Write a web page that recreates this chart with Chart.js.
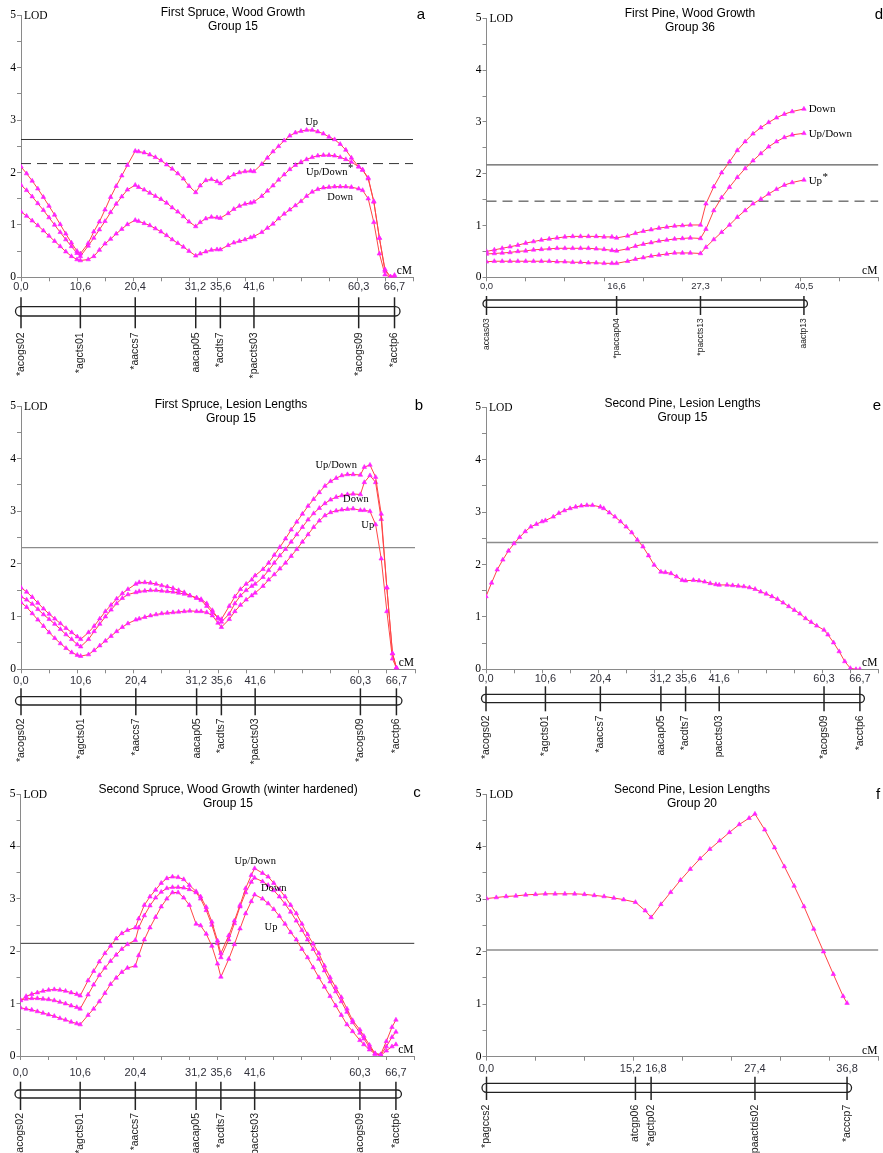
<!DOCTYPE html>
<html>
<head>
<meta charset="utf-8">
<title>LOD profiles</title>
<script src="https://cdn.jsdelivr.net/npm/chart.js"></script>
<style>
  body { margin: 0; background: #fff; width: 883px; height: 1153px; overflow: hidden; position: relative; }
  canvas { position: absolute; }
</style>
</head>
<body>
<canvas id="pa" width="440" height="385" style="left:0;top:0"></canvas>
<canvas id="pb" width="440" height="385" style="left:0;top:390px"></canvas>
<canvas id="pc" width="440" height="373" style="left:0;top:780px"></canvas>
<canvas id="pd" width="443" height="385" style="left:440px;top:0"></canvas>
<canvas id="pe" width="443" height="385" style="left:440px;top:390px"></canvas>
<canvas id="pf" width="443" height="373" style="left:440px;top:780px"></canvas>
<script>
// ---- linkage group 15 (panels a, b, c, e) ----
const g15Pos = [0, 10.6, 20.4, 31.2, 35.6, 41.6, 60.3, 66.7];
const g15Names = ['*acogs02', '*agcts01', '*aaccs7', 'aacap05', '*acdts7', '*paccts03', '*acogs09', '*acctp6'];
const g15NamesE = ['*acogs02', '*agcts01', '*aaccs7', 'aacap05', '*acdts7', 'paccts03', '*acogs09', '*acctp6'];
const g15cM = [0,1,2,3,4,5,6,7,8,9,10,10.6, 12,13,14,15,16,17,18,19, 20.4,21,22,23,24,25,26,27,28,29,30,
  31.2,32,33,34,35, 35.6,37,38,39,40,41, 41.6,43,44,45,46,47,48,49,50,51,52,53,54,55,56,57,58,59,
  60.3,61,62,63,64,65,66,66.7];

// a: First Spruce, Wood Growth
const aUp = [2.11,1.98,1.84,1.69,1.53,1.36,1.19,1.01,0.83,0.66,0.50,0.45,
  0.65,0.87,1.06,1.29,1.53,1.74,1.94,2.14,
  2.41,2.40,2.38,2.34,2.29,2.23,2.15,2.07,1.98,1.88,1.74,
  1.62,1.75,1.85,1.87,1.83,
  1.79,1.90,1.96,2.00,2.02,2.03,
  2.02,2.16,2.28,2.40,2.50,2.61,2.70,2.76,2.79,2.81,2.81,2.78,2.74,2.68,2.63,2.54,2.43,2.28,
  2.11,2.05,1.90,1.45,0.75,0.15,0.01,0.04];
const aUpDown = [1.76,1.66,1.54,1.41,1.28,1.14,1.00,0.86,0.72,0.59,0.46,0.40,
  0.60,0.75,0.91,1.07,1.24,1.40,1.54,1.67,
  1.76,1.72,1.67,1.61,1.55,1.49,1.42,1.33,1.25,1.16,1.06,
  0.97,1.05,1.12,1.15,1.14,
  1.13,1.22,1.30,1.36,1.40,1.42,
  1.44,1.55,1.65,1.75,1.86,1.96,2.06,2.14,2.20,2.25,2.29,2.32,2.33,2.33,2.32,2.29,2.25,2.20,
  2.11,2.05,1.88,1.44,0.75,0.12,0.00,0.02];
const aDown = [1.25,1.17,1.08,0.99,0.89,0.79,0.69,0.59,0.49,0.40,0.34,0.32,
  0.34,0.40,0.52,0.64,0.73,0.83,0.92,1.01,
  1.09,1.07,1.03,0.99,0.93,0.87,0.80,0.72,0.65,0.58,0.50,
  0.41,0.45,0.49,0.52,0.53,
  0.53,0.61,0.66,0.69,0.72,0.76,
  0.78,0.86,0.94,1.02,1.12,1.21,1.29,1.37,1.45,1.55,1.63,1.68,1.71,1.72,1.73,1.73,1.73,1.72,
  1.69,1.66,1.50,1.05,0.45,0.05,0.00,0.00];
const aThr = [2.63, 2.17];

// b: First Spruce, Lesion Lengths
const bUpDown = [1.55,1.47,1.37,1.26,1.15,1.05,0.96,0.87,0.78,0.70,0.62,0.57,
  0.70,0.82,0.96,1.10,1.22,1.34,1.44,1.52,
  1.62,1.65,1.65,1.64,1.62,1.59,1.57,1.54,1.50,1.46,1.40,
  1.35,1.31,1.20,1.08,0.98,
  0.95,1.20,1.38,1.52,1.62,1.70,
  1.78,1.90,2.02,2.17,2.32,2.48,2.65,2.80,2.95,3.10,3.23,3.36,3.48,3.57,3.63,3.68,3.70,3.70,
  3.69,3.84,3.88,3.65,2.95,1.55,0.30,0.03];
const bDown = [1.38,1.32,1.24,1.14,1.04,0.95,0.86,0.76,0.66,0.57,0.47,0.43,
  0.57,0.72,0.86,1.00,1.13,1.25,1.35,1.42,
  1.46,1.48,1.49,1.50,1.50,1.49,1.48,1.47,1.45,1.43,1.40,
  1.36,1.33,1.25,1.12,0.97,
  0.90,1.05,1.25,1.40,1.50,1.58,
  1.62,1.75,1.88,2.02,2.16,2.28,2.42,2.56,2.70,2.84,2.96,3.06,3.15,3.22,3.27,3.30,3.32,3.33,
  3.32,3.55,3.68,3.55,2.85,1.55,0.30,0.03];
const bUp = [1.27,1.18,1.06,0.94,0.82,0.70,0.59,0.49,0.40,0.32,0.27,0.25,
  0.28,0.36,0.45,0.54,0.63,0.72,0.80,0.87,
  0.94,0.96,0.99,1.02,1.04,1.06,1.07,1.08,1.09,1.10,1.11,
  1.10,1.10,1.08,1.02,0.88,
  0.80,0.95,1.10,1.22,1.32,1.40,
  1.45,1.58,1.70,1.80,1.91,2.02,2.15,2.28,2.42,2.56,2.70,2.82,2.92,2.98,3.01,3.03,3.04,3.05,
  3.02,3.02,3.00,2.75,2.10,1.10,0.20,0.02];
const bThr = [2.31];

// c: Second Spruce, Wood Growth (winter hardened)
const cUpDown = [1.06,1.14,1.18,1.21,1.24,1.26,1.27,1.26,1.24,1.21,1.18,1.15,
  1.44,1.62,1.80,1.96,2.10,2.24,2.34,2.40,
  2.45,2.62,2.88,3.04,3.17,3.30,3.39,3.42,3.41,3.37,3.26,
  3.14,3.04,2.84,2.56,2.20,
  1.96,2.30,2.58,2.88,3.20,3.45,
  3.58,3.49,3.42,3.30,3.18,3.04,2.88,2.72,2.52,2.32,2.14,1.96,1.72,1.50,1.31,1.12,0.90,0.68,
  0.50,0.38,0.21,0.05,0.03,0.28,0.55,0.69];
const cDown = [1.07,1.09,1.10,1.10,1.09,1.08,1.06,1.03,1.00,0.96,0.93,0.90,
  1.17,1.36,1.54,1.68,1.81,1.93,2.04,2.13,
  2.21,2.45,2.68,2.87,3.02,3.13,3.20,3.22,3.22,3.21,3.18,
  3.12,3.00,2.78,2.50,2.15,
  1.88,2.22,2.53,2.85,3.12,3.32,
  3.40,3.33,3.26,3.16,3.04,2.90,2.75,2.58,2.40,2.22,2.04,1.85,1.63,1.42,1.23,1.04,0.84,0.64,
  0.44,0.33,0.17,0.04,0.02,0.18,0.36,0.46];
const cUp = [0.92,0.90,0.88,0.85,0.82,0.79,0.76,0.72,0.69,0.65,0.62,0.60,
  0.78,0.90,1.04,1.20,1.37,1.49,1.60,1.68,
  1.72,1.92,2.22,2.45,2.65,2.85,3.00,3.12,3.12,3.02,2.88,
  2.52,2.49,2.33,2.10,1.76,
  1.51,1.85,2.13,2.43,2.72,2.95,
  3.08,3.00,2.91,2.80,2.67,2.52,2.36,2.22,2.04,1.88,1.69,1.50,1.32,1.14,0.96,0.78,0.60,0.47,
  0.30,0.22,0.12,0.04,0.01,0.10,0.18,0.22];
const cThr = [2.15];

// e: Second Pine, Lesion Lengths, group 15
const eLod = [1.39,1.65,1.90,2.09,2.26,2.40,2.52,2.63,2.72,2.77,2.82,2.84,
  2.91,2.98,3.03,3.07,3.10,3.12,3.13,3.13,
  3.10,3.07,2.99,2.91,2.82,2.72,2.61,2.47,2.34,2.17,1.99,
  1.86,1.85,1.83,1.77,1.70,
  1.69,1.70,1.69,1.67,1.64,1.62,
  1.61,1.61,1.60,1.59,1.58,1.56,1.53,1.48,1.44,1.39,1.34,1.27,1.20,1.13,1.06,0.97,0.90,0.83,
  0.75,0.66,0.51,0.34,0.15,0.02,0.00,0.00];
const eThr = [2.42];

// ---- d: First Pine, Wood Growth, group 36 ----
const g36Pos = [0, 16.6, 27.3, 40.5];
const g36Names = ['accas03', '*paccap04', '*paccts13', 'aactp13'];
const g36cM = [0,1,2,3,4,5,6,7,8,9,10,11,12,13,14,15,16,16.6, 18,19,20,21,22,23,24,25,26,27.3,
  28,29,30,31,32,33,34,35,36,37,38,39,40.5];
const dDown = [0.50,0.53,0.56,0.59,0.62,0.66,0.69,0.72,0.74,0.76,0.78,0.79,0.79,0.79,0.79,0.78,0.78,0.76,
  0.80,0.85,0.89,0.92,0.95,0.97,0.99,1.00,1.01,1.01,
  1.42,1.75,2.02,2.23,2.45,2.62,2.77,2.89,2.99,3.08,3.15,3.20,3.25];
const dUpDown = [0.45,0.46,0.47,0.48,0.50,0.51,0.53,0.54,0.55,0.56,0.56,0.56,0.56,0.56,0.55,0.54,0.52,0.51,
  0.55,0.60,0.64,0.67,0.70,0.72,0.74,0.75,0.76,0.75,
  0.93,1.29,1.54,1.74,1.93,2.10,2.25,2.39,2.52,2.62,2.70,2.75,2.78];
const dUp = [0.30,0.31,0.31,0.31,0.31,0.31,0.31,0.31,0.31,0.30,0.30,0.29,0.29,0.28,0.28,0.27,0.27,0.27,
  0.31,0.35,0.38,0.41,0.43,0.45,0.47,0.47,0.47,0.46,
  0.58,0.73,0.87,1.01,1.16,1.29,1.42,1.51,1.61,1.70,1.78,1.83,1.88];
const dThr = [2.17, 1.47];

// ---- f: Second Pine, Lesion Lengths, group 20 ----
const g20Pos = [0, 15.2, 16.8, 27.4, 36.8];
const g20Names = ['*pagccs2', 'atcgp06', '*agctp02', '*paactds02', '*acccp7'];
const g20cM = [0,1,2,3,4,5,6,7,8,9,10,11,12,13,14,15.2,16.2,16.8,17.8,18.8,19.8,20.8,21.8,22.8,23.8,
  24.8,25.8,26.8,27.4,28.4,29.4,30.4,31.4,32.4,33.4,34.4,35.4,36.4,36.8];
const fLod = [3.01,3.03,3.05,3.06,3.08,3.09,3.10,3.10,3.10,3.10,3.09,3.07,3.05,3.02,2.99,2.94,2.78,2.65,
  2.90,3.13,3.36,3.57,3.77,3.95,4.11,4.27,4.42,4.54,4.62,4.32,3.98,3.62,3.25,2.86,2.43,2.00,1.57,1.15,1.02];
const fThr = [2.03];

const SANS = '"Liberation Sans", Arial, sans-serif';
const SERIF = '"Liberation Serif", "Times New Roman", serif';

function curve(xs, ys) {
  return {
    data: xs.map((x, i) => ({ x: x, y: ys[i] })),
    showLine: true, borderColor: '#ff4646', borderWidth: 1, tension: 0,
    pointStyle: 'triangle', pointRadius: 2.6, pointBorderWidth: 0.6,
    pointBackgroundColor: '#ff22ff', pointBorderColor: '#ff22ff'
  };
}

function threshold(v, xmax, dashed, color, width) {
  return {
    data: [{ x: 0, y: v }, { x: xmax, y: v }],
    showLine: true, borderColor: color, borderWidth: width,
    borderDash: dashed ? [10, 6] : [], pointRadius: 0
  };
}

// titles, labels and the linkage map under each plot
const decor = {
  id: 'decor',
  afterDraw(chart, args, o) {
    const ctx = chart.ctx, ca = chart.chartArea, xs = chart.scales.x, ys = chart.scales.y;
    ctx.save();
    ctx.fillStyle = '#000';
    ctx.textBaseline = 'middle';
    ctx.textAlign = 'center';
    ctx.font = '12px ' + SANS;
    o.title.forEach((t, i) => ctx.fillText(t, o.titleX, o.titleY + i * 14));
    ctx.font = '15px ' + SANS;
    ctx.fillText(o.letter, o.letterX, o.letterY);

    ctx.font = '11.5px ' + SERIF;
    ctx.textAlign = 'left';
    ctx.fillText('LOD', ca.left + 3, ca.top + 1);
    ctx.textAlign = 'right';
    ctx.fillText('cM', ca.right - 1, ca.bottom - 6);

    ctx.font = o.noteSize + 'px ' + SERIF;
    o.notes.forEach(n => {
      const px = xs.getPixelForValue(n.x), py = ys.getPixelForValue(n.y);
      const w = ctx.measureText(n.t).width;
      const left = n.align === 'left' ? px : px - w / 2;
      ctx.textAlign = 'left';
      ctx.fillText(n.t, left, py);
      if (n.sup) ctx.fillText(n.sup, left + w + 0.5, py - 4);
    });

    // linkage map
    const m = o.map, b = ca.bottom;
    const px = m.pos.map(p => xs.getPixelForValue(p));
    ctx.fillStyle = '#30303a';
    ctx.textAlign = 'center';
    ctx.font = m.labFont + 'px ' + SANS;
    // position labels, nudged apart when neighbours would touch
    const texts = m.pos.map(p => p.toFixed(1).replace('.', ','));
    const widths = texts.map(t => ctx.measureText(t).width);
    const cx = px.slice();
    for (let k = 0; k < 4; k++) {
      for (let i = 0; i < cx.length - 1; i++) {
        const gap = (cx[i + 1] - widths[i + 1] / 2) - (cx[i] + widths[i] / 2);
        if (gap < 4) { cx[i] -= (4 - gap) / 2; cx[i + 1] += (4 - gap) / 2; }
      }
    }
    texts.forEach((t, i) => ctx.fillText(t, cx[i], b + m.lab));

    ctx.strokeStyle = '#222';
    ctx.lineWidth = 1.3;
    const l = px[0] - m.pad, r = px[px.length - 1] + m.pad;
    const t = b + m.barTop, bb = b + m.barBot, rad = (bb - t) / 2;
    ctx.beginPath();
    ctx.moveTo(l + rad, t);
    ctx.lineTo(r - rad, t);
    ctx.arc(r - rad, t + rad, rad, -Math.PI / 2, Math.PI / 2);
    ctx.lineTo(l + rad, bb);
    ctx.arc(l + rad, t + rad, rad, Math.PI / 2, Math.PI * 1.5);
    ctx.closePath();
    ctx.stroke();

    ctx.lineWidth = 1.5;
    px.forEach(v => {
      ctx.beginPath();
      ctx.moveTo(v, b + m.tickTop);
      ctx.lineTo(v, b + m.tickBot);
      ctx.stroke();
    });

    ctx.fillStyle = '#222';
    ctx.font = m.nameFont + 'px ' + SANS;
    ctx.textAlign = 'right';
    m.names.forEach((nm, i) => {
      ctx.save();
      ctx.translate(px[i], b + m.nameTop);
      ctx.rotate(-Math.PI / 2);
      ctx.fillText(nm, 0, 0);
      ctx.restore();
    });
    ctx.restore();
  }
};

function makePanel(p) {
  const datasets = p.curves.map(c => curve(p.cM, c));
  p.thr.forEach((v, i) => datasets.push(threshold(v, p.xmax, i === 1, p.thrColor, p.thrWidth)));
  new Chart(document.getElementById(p.id), {
    type: 'scatter',
    data: { datasets: datasets },
    plugins: [decor],
    options: {
      responsive: false,
      animation: false,
      devicePixelRatio: 1,
      layout: { padding: { left: 0, top: p.T, right: p.W - p.R, bottom: 0 } },
      plugins: {
        legend: { display: false },
        tooltip: { enabled: false },
        decor: p.decor
      },
      scales: {
        x: {
          type: 'linear', min: 0, max: p.xmax,
          ticks: { display: false, stepSize: 5 },
          grid: { drawOnChartArea: false, drawTicks: true, tickLength: 4, color: '#8a8a8a' },
          border: { color: '#8a8a8a', width: 1 },
          afterFit: s => { s.height = p.H - p.B; }
        },
        y: {
          min: 0, max: 5,
          ticks: {
            stepSize: 0.5, autoSkip: false, padding: 1, color: '#000',
            font: { family: SERIF, size: 11.5 },
            callback: v => Number.isInteger(v) ? v : ''
          },
          grid: { drawOnChartArea: false, drawTicks: true, tickLength: 4, color: '#8a8a8a' },
          border: { color: '#8a8a8a', width: 1 },
          afterFit: s => { s.width = p.L; }
        }
      }
    }
  });
}

const mapBig = { labFont: 11, nameFont: 10.5 };

makePanel({ id: 'pa', W: 440, H: 385, L: 21, T: 15.3, B: 277.3, R: 413, xmax: 70,
  cM: g15cM, curves: [aUp, aUpDown, aDown], thr: aThr, thrColor: '#333', thrWidth: 1,
  decor: { title: ['First Spruce, Wood Growth', 'Group 15'], titleX: 233, titleY: 13,
    letter: 'a', letterX: 421, letterY: 15, noteSize: 10.5,
    notes: [{ t: 'Up', x: 51.9, y: 2.96 }, { t: 'Up/Down', sup: '*', x: 54.6, y: 2.0 }, { t: 'Down', x: 57, y: 1.52 }],
    map: Object.assign({ pos: g15Pos, names: g15Names, lab: 10, barTop: 29.4, barBot: 38.7,
      tickTop: 20, tickBot: 51, nameTop: 55, pad: 5.5 }, mapBig) } });

makePanel({ id: 'pb', W: 440, H: 385, L: 21, T: 16, B: 279.3, R: 415, xmax: 70,
  cM: g15cM, curves: [bUpDown, bDown, bUp], thr: bThr, thrColor: '#8c8c8c', thrWidth: 1.4,
  decor: { title: ['First Spruce, Lesion Lengths', 'Group 15'], titleX: 231, titleY: 15,
    letter: 'b', letterX: 419, letterY: 16, noteSize: 10.5,
    notes: [{ t: 'Up/Down', x: 56, y: 3.88 }, { t: 'Down', x: 59.5, y: 3.22 }, { t: 'Up', x: 61.6, y: 2.74 }],
    map: Object.assign({ pos: g15Pos, names: g15Names, lab: 11.4, barTop: 27.4, barBot: 35.7,
      tickTop: 19, tickBot: 46, nameTop: 49, pad: 5.5 }, mapBig) } });

makePanel({ id: 'pc', W: 440, H: 373, L: 20.5, T: 14, B: 276, R: 414.5, xmax: 70,
  cM: g15cM, curves: [cUpDown, cDown, cUp], thr: cThr, thrColor: '#333', thrWidth: 1,
  decor: { title: ['Second Spruce, Wood Growth (winter hardened)', 'Group 15'], titleX: 228, titleY: 10,
    letter: 'c', letterX: 417, letterY: 13, noteSize: 10.5,
    notes: [{ t: 'Up/Down', x: 41.7, y: 3.71 }, { t: 'Down', x: 45, y: 3.2 }, { t: 'Up', x: 44.5, y: 2.45 }],
    map: Object.assign({ pos: g15Pos, names: g15Names, lab: 17, barTop: 34, barBot: 42,
      tickTop: 25.7, tickBot: 54, nameTop: 57, pad: 5.5 }, mapBig) } });

makePanel({ id: 'pd', W: 443, H: 385, L: 46.5, T: 18.3, B: 277.3, R: 442.5, xmax: 50,
  cM: g36cM, curves: [dDown, dUpDown, dUp], thr: dThr, thrColor: '#333', thrWidth: 1,
  decor: { title: ['First Pine, Wood Growth', 'Group 36'], titleX: 250, titleY: 14,
    letter: 'd', letterX: 439, letterY: 15, noteSize: 11,
    notes: [{ t: 'Down', x: 41.1, y: 3.24, align: 'left' }, { t: 'Up/Down', x: 41.1, y: 2.77, align: 'left' },
      { t: 'Up', sup: '*', x: 41.1, y: 1.86, align: 'left' }],
    map: { pos: g36Pos, names: g36Names, lab: 9.4, barTop: 22.7, barBot: 30, tickTop: 18.7, tickBot: 37.7,
      nameTop: 41, pad: 3.5, labFont: 9.5, nameFont: 8.5 } } });

makePanel({ id: 'pe', W: 443, H: 385, L: 46, T: 17.3, B: 279.3, R: 439.4, xmax: 70,
  cM: g15cM, curves: [eLod], thr: eThr, thrColor: '#8c8c8c', thrWidth: 1.4,
  decor: { title: ['Second Pine, Lesion Lengths', 'Group 15'], titleX: 242.5, titleY: 14,
    letter: 'e', letterX: 437, letterY: 16, noteSize: 10.5, notes: [],
    map: Object.assign({ pos: g15Pos, names: g15NamesE, lab: 9.4, barTop: 25, barBot: 33.4,
      tickTop: 17, tickBot: 42, nameTop: 46, pad: 4.5 }, mapBig) } });

makePanel({ id: 'pf', W: 443, H: 373, L: 46.5, T: 14, B: 276.7, R: 442.1, xmax: 40,
  cM: g20cM, curves: [fLod], thr: fThr, thrColor: '#8c8c8c', thrWidth: 1.4,
  decor: { title: ['Second Pine, Lesion Lengths', 'Group 20'], titleX: 252, titleY: 9.7,
    letter: 'f', letterX: 438, letterY: 15, noteSize: 10.5, notes: [],
    map: Object.assign({ pos: g20Pos, names: g20Names, lab: 12, barTop: 26.6, barBot: 35.6,
      tickTop: 20, tickBot: 43.3, nameTop: 48, pad: 4.5 }, mapBig) } });
</script>
</body>
</html>
